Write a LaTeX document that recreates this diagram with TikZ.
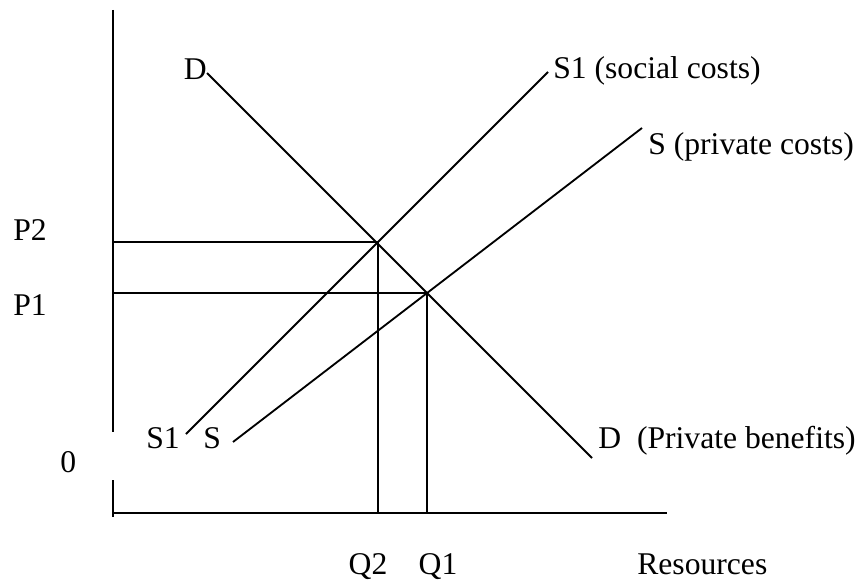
\documentclass[tikz,border=0pt]{standalone}
\usepackage{fontspec}
\setmainfont{Liberation Serif}
\usetikzlibrary{positioning}
\definecolor{ecInk}{HTML}{000000}
\tikzset{
  ec axis/.style={draw=ecInk, line width=1.15pt},
  ec curve/.style={draw=ecInk, line width=1.05pt},
  ec guide/.style={draw=ecInk, line width=1.05pt},
  ec label/.style={font=\fontsize{18}{21}\selectfont, text=ecInk, inner sep=0pt}
}

\begin{document}
\begin{tikzpicture}[x=0.02cm,y=-0.02cm]
  \useasboundingbox (0,0) rectangle (859,581);

  % axes (the price axis is broken beside the 0)
  \coordinate (yTop) at (113,10);
  \coordinate (yGapA) at (113,432);
  \coordinate (yGapB) at (113,480);
  \coordinate (yEnd) at (113,517);
  \coordinate (origin) at (113,513);
  \coordinate (xEnd) at (667,513);
  \draw[ec axis] (yTop) -- (yGapA);
  \draw[ec axis] (yGapB) -- (yEnd);
  \draw[ec axis] (origin) -- (xEnd);

  % curve ends and equilibria
  \coordinate (dTop) at (207,73);
  \coordinate (dBot) at (592,458);
  \coordinate (sOneBot) at (186,434);
  \coordinate (sOneTop) at (548,72);
  \coordinate (sBot) at (233,442);
  \coordinate (sTop) at (642,128);
  \coordinate (eqTwo) at (378,242);
  \coordinate (eqOne) at (427,293);
  \coordinate (pTwo) at (origin |- eqTwo);
  \coordinate (pOne) at (origin |- eqOne);
  \coordinate (qTwo) at (eqTwo |- origin);
  \coordinate (qOne) at (eqOne |- origin);

  \draw[ec curve] (dTop) -- (dBot);
  \draw[ec curve] (sOneBot) -- (sOneTop);
  \draw[ec curve] (sBot) -- (sTop);

  \draw[ec guide] (pTwo) -- (eqTwo) -- (qTwo);
  \draw[ec guide] (pOne) -- (eqOne) -- (qOne);

  % labels
  \node[ec label, anchor=base east] (dTopLbl) at (207,80) {D};
  \node[ec label, anchor=base west] (sOneLbl) at (553,79) {S1 (social costs)};
  \node[ec label, anchor=base west] (sLbl) at (648,154) {S (private costs)};
  \node[ec label, anchor=base west] (dLbl) at (598,448) {D\ \ (Private benefits)};
  \node[ec label, anchor=base west] (sOneBotLbl) at (146,448) {S1};
  \node[ec label, anchor=base west] (sBotLbl) at (203,448) {S};
  \node[ec label, anchor=base west] (zeroLbl) at (60,472) {0};
  \node[ec label, anchor=base west] (pTwoLbl) at (13,240) {P2};
  \node[ec label, anchor=base west] (pOneLbl) at (13,315) {P1};
  \node[ec label, anchor=base] (qTwoLbl) at (368,574) {Q2};
  \node[ec label, anchor=base] (qOneLbl) at (438,574) {Q1};
  \node[ec label, anchor=base west] (resLbl) at (637,574) {Resources};
\end{tikzpicture}
\end{document}
